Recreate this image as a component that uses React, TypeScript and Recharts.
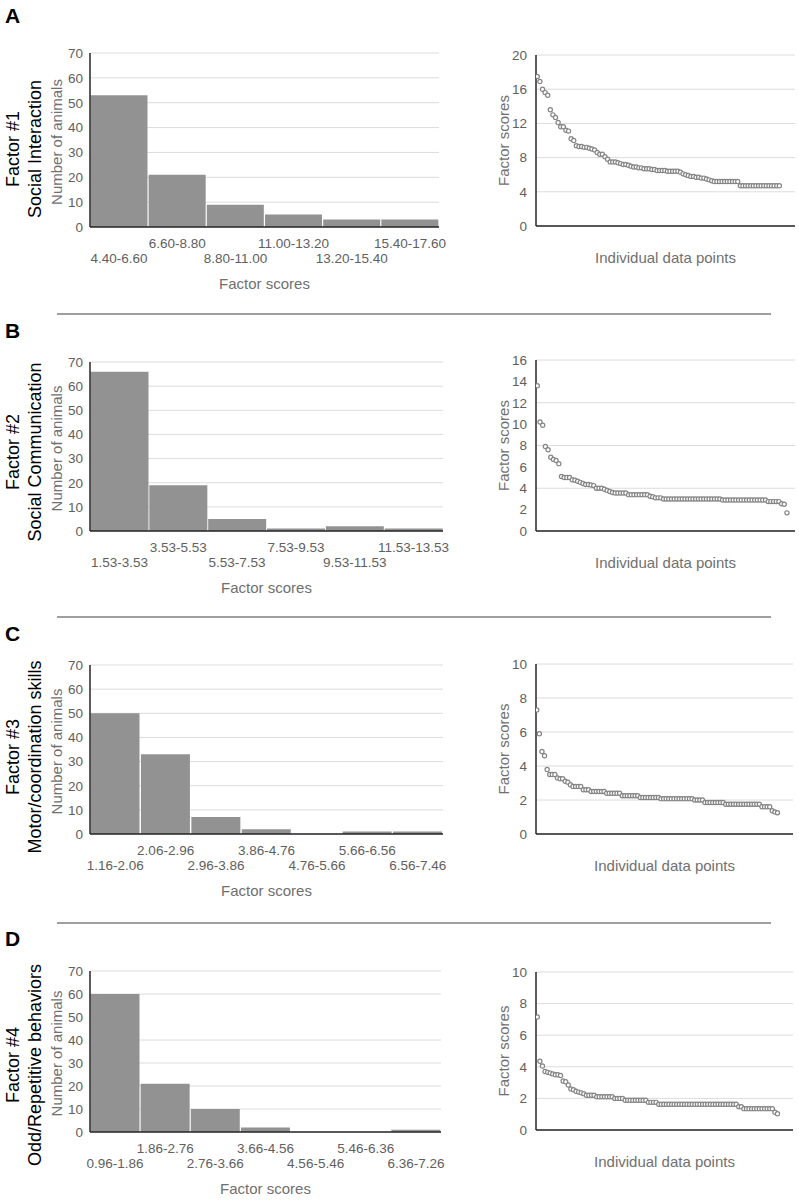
import { BarChart, Bar, XAxis, YAxis, CartesianGrid, ScatterChart, Scatter } from "recharts";

const FONT = '"Liberation Sans", Arial, Helvetica, sans-serif';
const BAR_FILL = "#929292";
const GRID = "#dcdcdc";
const AXIS = "#262626";
const TICK = "#606060";
const TITLE = "#707070";

// histogram bins + counts (number of animals)
const binsA = ["4.40-6.60", "6.60-8.80", "8.80-11.00", "11.00-13.20", "13.20-15.40", "15.40-17.60"];
const countsA = [53, 21, 9, 5, 3, 3];
const binsB = ["1.53-3.53", "3.53-5.53", "5.53-7.53", "7.53-9.53", "9.53-11.53", "11.53-13.53"];
const countsB = [66, 19, 5, 1, 2, 1];
const binsC = ["1.16-2.06", "2.06-2.96", "2.96-3.86", "3.86-4.76", "4.76-5.66", "5.66-6.56", "6.56-7.46"];
const countsC = [50, 33, 7, 2, 0, 1, 1];
const binsD = ["0.96-1.86", "1.86-2.76", "2.76-3.66", "3.66-4.56", "4.56-5.46", "5.46-6.36", "6.36-7.26"];
const countsD = [60, 21, 10, 2, 0, 0, 1];

// sorted individual factor scores
const scoresA = [
  17.5, 16.9, 16.0, 15.6, 15.3, 13.6, 13.0, 12.7, 12.1, 11.6,
  11.6, 11.2, 11.1, 10.2, 10.0, 9.4, 9.3, 9.3, 9.2, 9.2,
  9.1, 9.0, 8.9, 8.6, 8.4, 8.4, 8.1, 7.8, 7.5, 7.5,
  7.5, 7.4, 7.3, 7.2, 7.2, 7.1, 7.0, 6.9, 6.9, 6.8,
  6.8, 6.7, 6.7, 6.7, 6.6, 6.6, 6.5, 6.5, 6.5, 6.5,
  6.4, 6.4, 6.4, 6.4, 6.4, 6.3, 6.1, 6.0, 5.9, 5.8,
  5.8, 5.7, 5.7, 5.6, 5.6, 5.5, 5.4, 5.3, 5.2, 5.2,
  5.2, 5.2, 5.2, 5.2, 5.2, 5.2, 5.2, 5.2, 4.7, 4.7,
  4.7, 4.7, 4.7, 4.7, 4.7, 4.7, 4.7, 4.7, 4.7, 4.7,
  4.7, 4.7, 4.7, 4.7,
];
const scoresB = [
  13.6, 10.2, 9.9, 7.9, 7.6, 6.9, 6.7, 6.6, 6.3, 5.1,
  5.0, 5.0, 5.0, 4.8, 4.75, 4.65, 4.55, 4.45, 4.35, 4.35,
  4.3, 4.25, 4.0, 4.0, 4.0, 3.9, 3.8, 3.7, 3.6, 3.55,
  3.55, 3.55, 3.55, 3.55, 3.4, 3.4, 3.4, 3.4, 3.4, 3.4,
  3.4, 3.4, 3.25, 3.2, 3.1, 3.1, 3.1, 3.0, 3.0, 3.0,
  3.0, 3.0, 3.0, 3.0, 3.0, 3.0, 3.0, 3.0, 3.0, 3.0,
  3.0, 3.0, 3.0, 3.0, 3.0, 3.0, 3.0, 3.0, 3.0, 2.9,
  2.9, 2.9, 2.9, 2.9, 2.9, 2.9, 2.9, 2.9, 2.9, 2.9,
  2.9, 2.9, 2.9, 2.9, 2.9, 2.9, 2.75, 2.75, 2.75, 2.75,
  2.75, 2.55, 2.5, 1.7,
];
const scoresC = [
  7.3, 5.9, 4.85, 4.6, 3.8, 3.5, 3.5, 3.5, 3.3, 3.25,
  3.25, 3.1, 3.05, 2.9, 2.8, 2.8, 2.8, 2.8, 2.6, 2.6,
  2.6, 2.5, 2.5, 2.5, 2.5, 2.5, 2.5, 2.4, 2.4, 2.4,
  2.4, 2.4, 2.4, 2.25, 2.25, 2.25, 2.25, 2.25, 2.25, 2.25,
  2.15, 2.15, 2.15, 2.15, 2.15, 2.15, 2.15, 2.15, 2.08, 2.08,
  2.08, 2.08, 2.08, 2.08, 2.08, 2.08, 2.08, 2.08, 2.08, 2.08,
  2.08, 2.0, 2.0, 2.0, 2.0, 1.85, 1.85, 1.85, 1.85, 1.85,
  1.85, 1.85, 1.85, 1.75, 1.75, 1.75, 1.75, 1.75, 1.75, 1.75,
  1.75, 1.75, 1.75, 1.75, 1.75, 1.75, 1.75, 1.6, 1.6, 1.6,
  1.6, 1.37, 1.3, 1.25,
];
const scoresD = [
  7.15, 4.35, 4.05, 3.7, 3.65, 3.6, 3.55, 3.5, 3.5, 3.45,
  3.1, 3.05, 2.85, 2.6, 2.55, 2.45, 2.4, 2.35, 2.3, 2.2,
  2.2, 2.2, 2.2, 2.1, 2.1, 2.1, 2.1, 2.1, 2.1, 2.1,
  2.0, 2.0, 2.0, 2.0, 1.88, 1.88, 1.88, 1.88, 1.88, 1.88,
  1.88, 1.88, 1.88, 1.75, 1.75, 1.75, 1.75, 1.63, 1.63, 1.63,
  1.63, 1.63, 1.63, 1.63, 1.63, 1.63, 1.63, 1.63, 1.63, 1.63,
  1.63, 1.63, 1.63, 1.63, 1.63, 1.63, 1.63, 1.63, 1.63, 1.63,
  1.63, 1.63, 1.63, 1.63, 1.63, 1.63, 1.63, 1.63, 1.47, 1.47,
  1.35, 1.35, 1.35, 1.35, 1.35, 1.35, 1.35, 1.35, 1.35, 1.35,
  1.35, 1.35, 1.12, 1.03,
];

const countTicks = [0, 10, 20, 30, 40, 50, 60, 70];
const scoreTicksA = [0, 4, 8, 12, 16, 20];
const scoreTicksB = [0, 2, 4, 6, 8, 10, 12, 14, 16];
const scoreTicksCD = [0, 2, 4, 6, 8, 10];

type HistSpec = { top: number; bottom: number; right: number; bins: string[]; counts: number[] };
type ScatterSpec = { top: number; bottom: number; right: number; ticks: number[]; xDomain: [number, number]; scores: number[] };
type Row = {
  letter: string;
  letterY: number;
  factor: string;
  name: string;
  labelY: number;
  divider?: number;
  hist: HistSpec;
  scatter: ScatterSpec;
};

const rows: Row[] = [
  {
    letter: "A", letterY: 15, factor: "Factor #1", name: "Social Interaction", labelY: 149,
    hist: { top: 53, bottom: 227, right: 439, bins: binsA, counts: countsA },
    scatter: { top: 55, bottom: 226, right: 795, ticks: scoreTicksA, xDomain: [0.5, 100], scores: scoresA },
  },
  {
    letter: "B", letterY: 330, factor: "Factor #2", name: "Social Communication", labelY: 452, divider: 314,
    hist: { top: 362, bottom: 531, right: 443, bins: binsB, counts: countsB },
    scatter: { top: 360, bottom: 531, right: 795, ticks: scoreTicksB, xDomain: [0.5, 97], scores: scoresB },
  },
  {
    letter: "C", letterY: 633, factor: "Factor #3", name: "Motor/coordination skills", labelY: 757, divider: 617,
    hist: { top: 665, bottom: 834, right: 443, bins: binsC, counts: countsC },
    scatter: { top: 664, bottom: 834, right: 793, ticks: scoreTicksCD, xDomain: [0.7, 100], scores: scoresC },
  },
  {
    letter: "D", letterY: 938, factor: "Factor #4", name: "Odd/Repetitive behaviors", labelY: 1065, divider: 923,
    hist: { top: 971, bottom: 1132, right: 441, bins: binsD, counts: countsD },
    scatter: { top: 972, bottom: 1130, right: 793, ticks: scoreTicksCD, xDomain: [0.5, 100], scores: scoresD },
  },
];

const HIST_LEFT = 90;
const SCATTER_BOX_LEFT = 450;
const SCATTER_LEFT = 536;

function StaggerTick(props: any) {
  const { x, y, payload, index } = props;
  const upper = index % 2 === 1;
  return (
    <text x={x} y={y + (upper ? 21 : 36)} textAnchor="middle" fontSize={13.5} fill={TICK} fontFamily={FONT}>
      {payload.value}
    </text>
  );
}

function OpenDot(props: any) {
  const { cx, cy } = props;
  if (cx == null || cy == null) return null;
  return <circle cx={cx} cy={cy} r={2.1} fill="#fff" stroke="#858585" strokeWidth={1.2} />;
}

function Histogram({ spec }: { spec: HistSpec }) {
  const data = spec.bins.map((bin, i) => ({ bin, count: spec.counts[i] }));
  const mTop = 10;
  const xH = 70;
  const h = spec.bottom - spec.top + mTop + xH;
  return (
    <div style={{ position: "absolute", left: 0, top: spec.top - mTop }}>
      <BarChart
        width={450}
        height={h}
        data={data}
        margin={{ top: mTop, right: 450 - spec.right, left: HIST_LEFT - 30, bottom: 0 }}
        barCategoryGap={0.5}
      >
        <CartesianGrid vertical={false} stroke={GRID} />
        <XAxis
          dataKey="bin"
          interval={0}
          height={xH}
          tickLine={false}
          tickSize={0}
          tickMargin={0}
          axisLine={{ stroke: AXIS, strokeWidth: 1.5 }}
          tick={<StaggerTick />}
        />
        <YAxis
          width={30}
          domain={[0, 70]}
          ticks={countTicks}
          tickLine={false}
          tickSize={0}
          tickMargin={7}
          axisLine={{ stroke: AXIS, strokeWidth: 1.5 }}
          tick={{ fontSize: 13.5, fill: TICK, fontFamily: FONT }}
        />
        <Bar dataKey="count" fill={BAR_FILL} isAnimationActive={false} />
      </BarChart>
    </div>
  );
}

function ScorePlot({ spec }: { spec: ScatterSpec }) {
  const data = spec.scores.map((score, i) => ({ idx: i + 1, score }));
  const mTop = 10;
  const xH = 45;
  const w = 349;
  const h = spec.bottom - spec.top + mTop + xH;
  const ymax = spec.ticks[spec.ticks.length - 1];
  return (
    <div style={{ position: "absolute", left: SCATTER_BOX_LEFT, top: spec.top - mTop }}>
      <ScatterChart
        width={w}
        height={h}
        margin={{ top: mTop, right: SCATTER_BOX_LEFT + w - spec.right, left: SCATTER_LEFT - SCATTER_BOX_LEFT - 40, bottom: 0 }}
      >
        <CartesianGrid vertical={false} stroke={GRID} />
        <XAxis
          type="number"
          dataKey="idx"
          domain={spec.xDomain}
          allowDataOverflow
          height={xH}
          tick={false}
          tickLine={false}
          axisLine={{ stroke: AXIS, strokeWidth: 1.5 }}
        />
        <YAxis
          type="number"
          dataKey="score"
          width={40}
          domain={[0, ymax]}
          ticks={spec.ticks}
          tickLine={false}
          tickSize={0}
          tickMargin={9}
          axisLine={{ stroke: AXIS, strokeWidth: 1.5 }}
          tick={{ fontSize: 13.5, fill: TICK, fontFamily: FONT }}
        />
        <Scatter data={data} shape={<OpenDot />} isAnimationActive={false} />
      </ScatterChart>
    </div>
  );
}

function Overlay() {
  return (
    <svg
      width={799}
      height={1200}
      style={{ position: "absolute", left: 0, top: 0, pointerEvents: "none" }}
      fontFamily={FONT}
    >
      {rows.map((r) => {
        const hMid = (r.hist.top + r.hist.bottom) / 2;
        const sMid = (r.scatter.top + r.scatter.bottom) / 2;
        const hCenter = (HIST_LEFT + r.hist.right) / 2;
        const sCenter = (SCATTER_LEFT + r.scatter.right) / 2;
        return (
          <g key={r.letter}>
            {r.divider !== undefined && (
              <line x1={57} x2={771} y1={r.divider} y2={r.divider} stroke="#7f7f7f" strokeWidth={1.5} />
            )}
            <text x={5} y={r.letterY} dy="0.36em" fontSize={21} fontWeight="bold" fill="#000">
              {r.letter}
            </text>
            <text transform={`translate(13,${r.labelY}) rotate(-90)`} dy="0.36em" textAnchor="middle" fontSize={18} fill="#000">
              {r.factor}
            </text>
            <text transform={`translate(35,${r.labelY}) rotate(-90)`} dy="0.36em" textAnchor="middle" fontSize={18} fill="#000">
              {r.name}
            </text>
            <text transform={`translate(57,${hMid + 2}) rotate(-90)`} dy="0.36em" textAnchor="middle" fontSize={15} fill={TITLE}>
              Number of animals
            </text>
            <text x={hCenter} y={r.hist.bottom + 57} dy="0.36em" textAnchor="middle" fontSize={15} fill={TITLE}>
              Factor scores
            </text>
            <text transform={`translate(504,${sMid}) rotate(-90)`} dy="0.36em" textAnchor="middle" fontSize={15} fill={TITLE}>
              Factor scores
            </text>
            <text x={sCenter} y={r.scatter.bottom + 32} dy="0.36em" textAnchor="middle" fontSize={15} fill={TITLE}>
              Individual data points
            </text>
          </g>
        );
      })}
    </svg>
  );
}

export default function App() {
  return (
    <div style={{ position: "absolute", left: 0, top: 0, width: 799, height: 1200, background: "#fff", fontFamily: FONT }}>
      {rows.map((r) => (
        <div key={r.letter}>
          <Histogram spec={r.hist} />
          <ScorePlot spec={r.scatter} />
        </div>
      ))}
      <Overlay />
    </div>
  );
}
